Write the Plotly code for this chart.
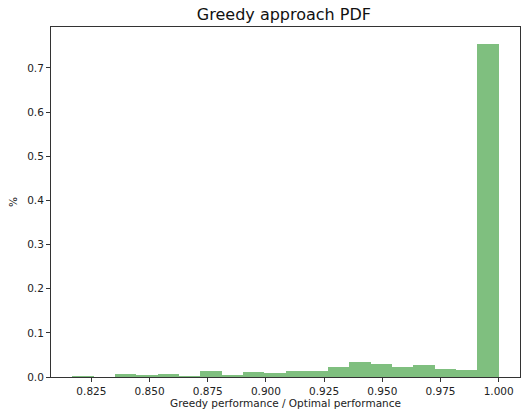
import numpy as np
import plotly.graph_objects as go

# Histogram of greedy / optimal performance ratios (fraction of runs per bin)
bin_start = 0.8168
bin_end = 1.0
n_bins = 20
fractions = [0.002, 0.0, 0.006, 0.0045, 0.0075, 0.002, 0.013, 0.005, 0.011, 0.009,
             0.0136, 0.0136, 0.0227, 0.035, 0.0287, 0.0227, 0.027, 0.018, 0.016, 0.755]
x_ticks = [0.825, 0.850, 0.875, 0.900, 0.925, 0.950, 0.975, 1.000]
y_ticks = [0.0, 0.1, 0.2, 0.3, 0.4, 0.5, 0.6, 0.7]

edges = np.linspace(bin_start, bin_end, n_bins + 1)
centers = (edges[:-1] + edges[1:]) / 2
widths = np.diff(edges)

fig = go.Figure(go.Bar(
    x=centers, y=fractions, width=widths,
    marker=dict(color="rgba(0,128,0,0.5)", line=dict(width=0)),
))

span = bin_end - bin_start
ymax = max(fractions) * 1.05
font = "DejaVu Sans, sans-serif"
axis_common = dict(
    showline=True, mirror=True, linecolor="#333", linewidth=1,
    ticks="outside", ticklen=4, tickwidth=1, tickcolor="#333",
    showgrid=False, zeroline=False,
    tickfont=dict(family=font, size=10.5, color="#222"),
)

fig.update_layout(
    width=521, height=410,
    margin=dict(l=51, r=1, t=27, b=33),
    plot_bgcolor="white", paper_bgcolor="white",
    bargap=0,
    showlegend=False,
    title=dict(text="Greedy approach PDF", x=0.545, xanchor="center", y=0.965, yanchor="middle",
               font=dict(family=font, size=16, color="#111")),
    xaxis=dict(range=[bin_start - 0.05 * span, bin_end + 0.05 * span],
               tickvals=x_ticks, ticktext=[f"{v:.3f}" for v in x_ticks],
               title=dict(text="Greedy performance / Optimal performance", standoff=4,
                          font=dict(family=font, size=10.5, color="#222")),
               **axis_common),
    yaxis=dict(range=[0, ymax], tickvals=y_ticks, ticktext=[f"{v:.1f}" for v in y_ticks],
               title=dict(text="%", standoff=7, font=dict(family=font, size=10.5, color="#222")),
               **axis_common),
)

fig.write_html("out.html")
